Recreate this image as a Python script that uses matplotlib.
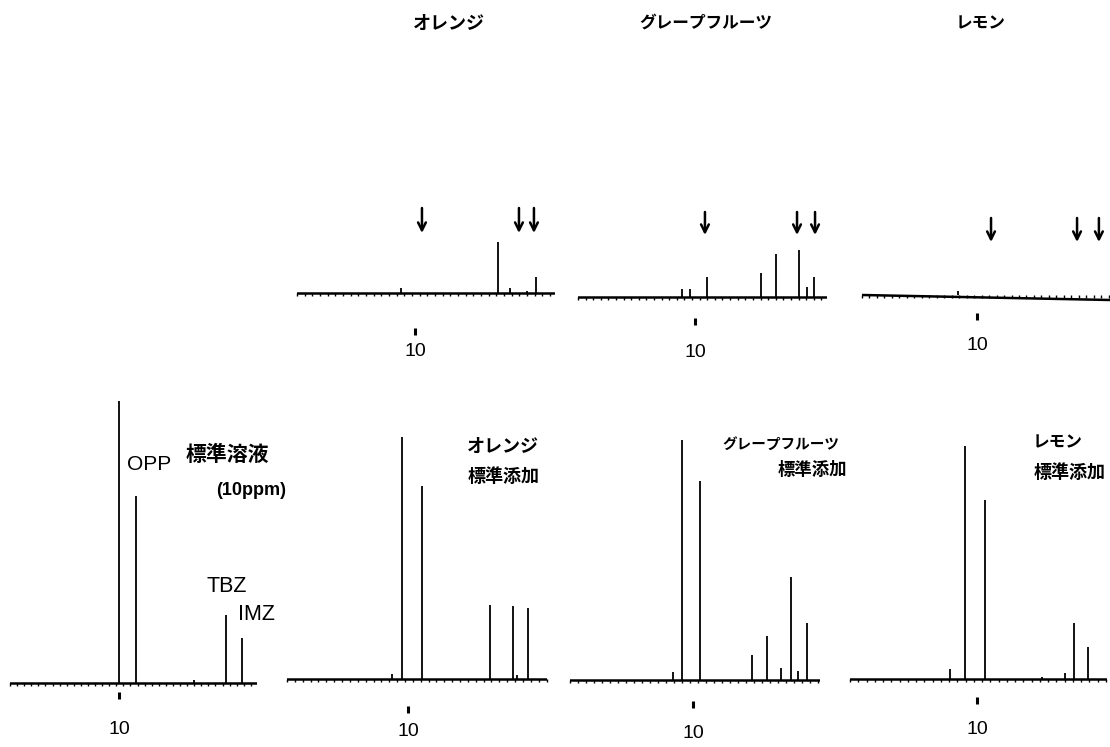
# HPLC chromatograms: standard and citrus samples (OPP, TBZ, IMZ)
import numpy as np
import matplotlib.pyplot as plt
from matplotlib.ticker import MultipleLocator, NullLocator

plt.rcParams['font.family'] = ['Noto Sans CJK JP', 'DejaVu Sans']

# ---- data (retention time in min, peak height in arbitrary units) ----
# top row: samples without spiking
orange_rt = [8.81, 17.03, 18.05, 19.49, 20.25]
orange_h = [5, 51, 5, 2, 16]
orange_arrows = [10.59, 18.81, 20.08]

grape_rt = [8.89, 9.57, 11.03, 15.64, 16.92, 18.89, 19.57, 20.17]
grape_h = [8, 8, 20, 24, 43, 47, 10, 20]
grape_arrows = [10.85, 18.72, 20.26]

lemon_rt = [8.35]
lemon_h = [4]
lemon_arrows = [11.22, 18.70, 20.60]

# bottom row: standard solution and spiked samples
std_rt = [10.0, 11.56, 16.9, 19.82, 21.28]
std_h = [282, 187, 3, 68, 45]

orange_sp_rt = [8.68, 9.50, 11.16, 16.78, 18.68, 19.0, 19.92]
orange_sp_h = [5, 242, 193, 74, 73, 4, 71]

grape_sp_rt = [8.37, 9.11, 10.57, 14.8, 16.02, 17.15, 17.97, 18.54, 19.27]
grape_sp_h = [8, 240, 199, 25, 44, 12, 103, 9, 57]

lemon_sp_rt = [7.87, 9.06, 10.63, 15.1, 16.93, 17.64, 18.74]
lemon_sp_h = [10, 233, 179, 2, 6, 56, 32]

W, H = 1110, 747
fig = plt.figure(figsize=(W / 100, H / 100), dpi=100)


def panel(left, right, tick_px, top, base, tick_top, rt, h, drift=0,
          arrows=None, arr_top=85, arr_tip=60, pad=10):
    scale = (tick_px - left) / 10.0
    tend = (right - left) / scale
    ax = fig.add_axes([left / W, 1 - tick_top / H, (right - left) / W, (tick_top - top) / H])
    ax.set_xlim(0, tend)
    ax.set_ylim(-(tick_top - base), base - top)
    ax.plot([0, tend], [0, drift], color='black', lw=1.8)
    ax.vlines(rt, 0, h, color='black', lw=1.3)
    for s in ['top', 'right', 'left']:
        ax.spines[s].set_visible(False)
    ax.spines['bottom'].set_position(('data', 0))
    ax.spines['bottom'].set_color('none')
    ax.set_yticks([])
    ax.xaxis.set_major_locator(NullLocator())
    ax.xaxis.set_minor_locator(MultipleLocator(0.65))
    ax.tick_params(axis='x', which='minor', length=2, width=1, direction='out')
    sec = ax.secondary_xaxis('bottom')
    sec.set_xticks([10])
    sec.set_xticklabels(['10'], family='Liberation Sans', fontsize=14)
    sec.xaxis.set_minor_locator(NullLocator())
    sec.spines['bottom'].set_visible(False)
    sec.tick_params(axis='x', length=5, width=2.2, pad=pad, direction='out')
    if arrows:
        for t in arrows:
            ax.annotate('', xy=(t, arr_tip), xytext=(t, arr_top),
                        arrowprops=dict(arrowstyle='->', lw=1.8, color='black',
                                        mutation_scale=14, shrinkA=0, shrinkB=0))
    return ax


# top row
panel(297, 555, 415, 190, 293, 328, orange_rt, orange_h,
      arrows=orange_arrows, arr_top=85, arr_tip=60, pad=6)
panel(578, 827, 695, 190, 297, 318, grape_rt, grape_h,
      arrows=grape_arrows, arr_top=85, arr_tip=62, pad=14)
panel(862, 1110, 977, 190, 295, 313, lemon_rt, lemon_h, drift=-5,
      arrows=lemon_arrows, arr_top=77, arr_tip=53, pad=12.5)

# bottom row
panel(10, 257, 119, 390, 683, 692, std_rt, std_h, pad=16)
panel(287, 547, 408, 390, 679, 706, orange_sp_rt, orange_sp_h, pad=7.5)
panel(570, 820, 693, 390, 680, 701, grape_sp_rt, grape_sp_h, pad=12)
panel(850, 1107, 977, 390, 679, 697, lemon_sp_rt, lemon_sp_h, pad=12.5)


def label(x, y, s, size=13, weight='bold', family=None):
    kw = {}
    if family:
        kw['family'] = family
    fig.text(x / W, 1 - y / H, s, ha='center', va='center', fontsize=size,
             fontweight=weight, **kw)


# titles
label(449, 23, 'オレンジ', 13)
label(706, 23, 'グレープフルーツ', 12)
label(981, 23, 'レモン', 12)

# standard labels
label(149, 465, 'OPP', 15, 'normal', 'Liberation Sans')
label(227, 454, '標準溶液', 15)
label(251, 490, '(10ppm)', 13, 'bold', 'Liberation Sans')
label(227, 587, 'TBZ', 15.5, 'normal', 'Liberation Sans')
label(256, 615, 'IMZ', 15.5, 'normal', 'Liberation Sans')

# spiked labels
label(503, 446, 'オレンジ', 13)
label(504, 477, '標準添加', 13)
label(781, 444, 'グレープフルーツ', 10.5)
label(812, 470, '標準添加', 12.5)
label(1058, 442, 'レモン', 12)
label(1070, 472, '標準添加', 13)

plt.savefig('out.png', dpi=100)
